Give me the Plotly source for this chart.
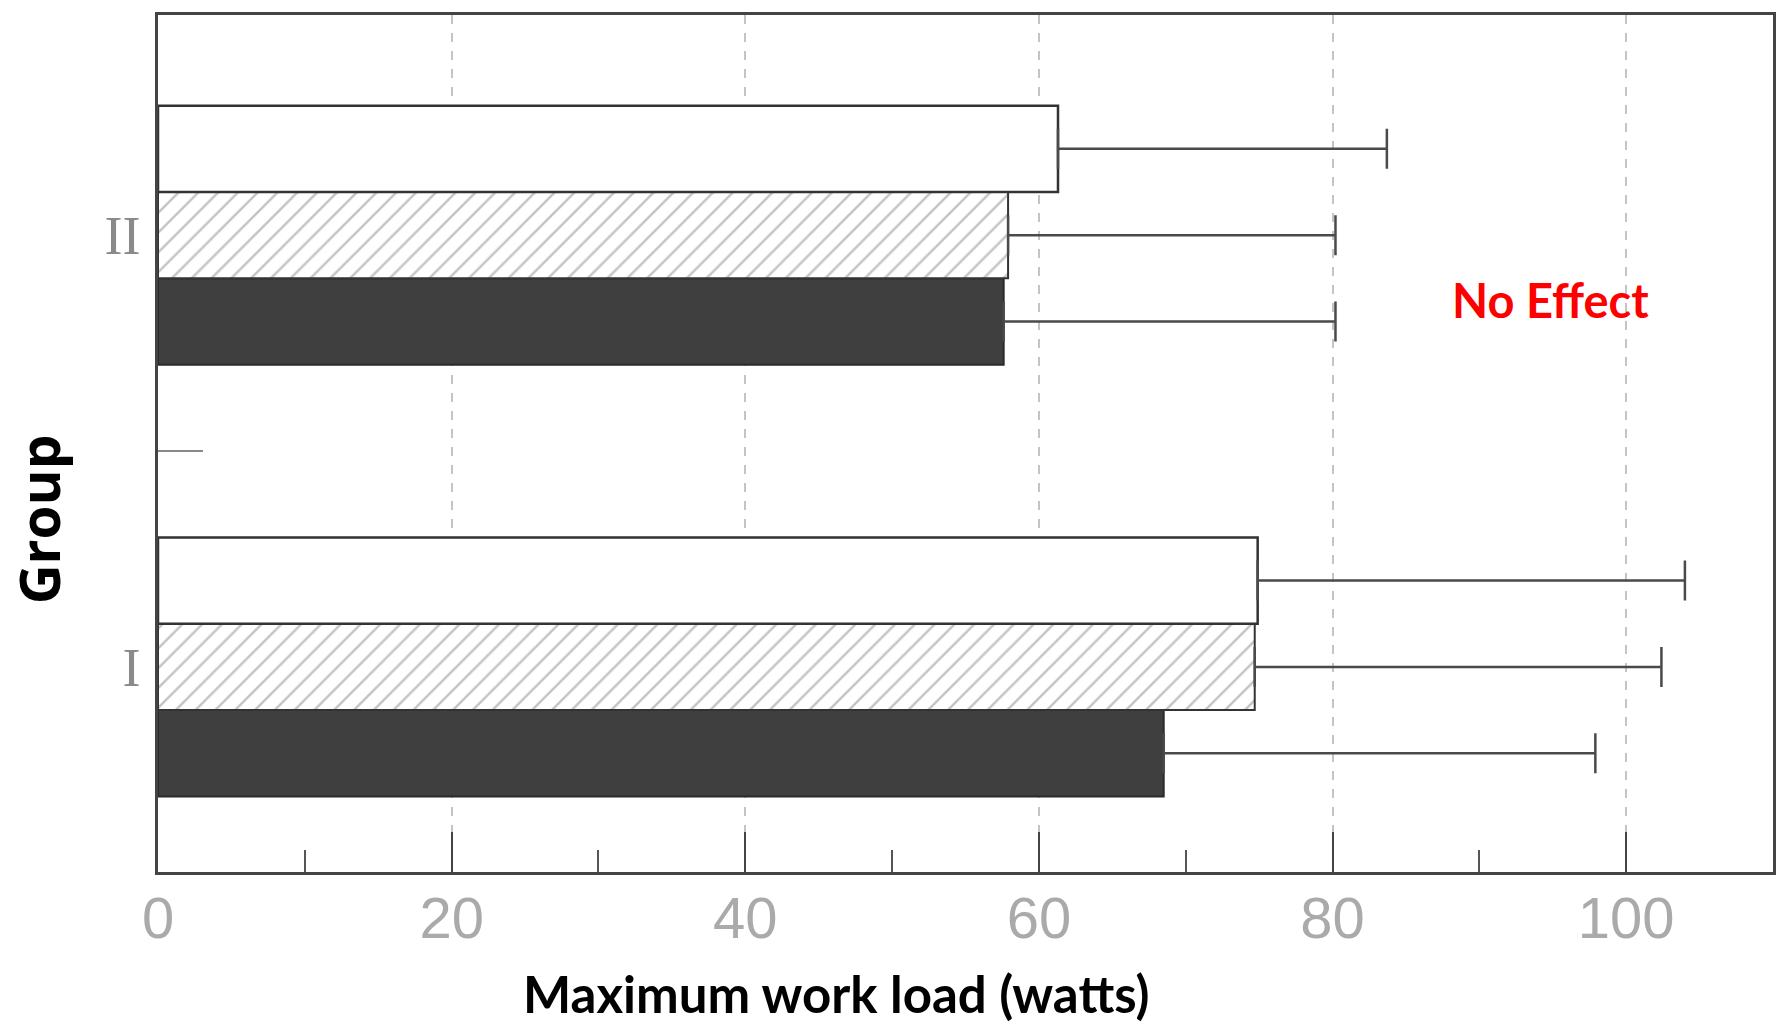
import plotly.graph_objects as go

# ---- data ----
groups = ["I", "II"]
group_pos = [0, 1]
series_names = ["Series C (dark)", "Series B (hatched)", "Series A (open)"]
dark_vals = [68.5, 57.6]
dark_err = [29.4, 22.6]
hatched_vals = [74.7, 57.9]
hatched_err = [27.7, 22.3]
open_vals = [74.9, 61.3]
open_err = [29.1, 22.4]
x_ticks = [0, 20, 40, 60, 80, 100]
x_tick_labels = ["0", "20", "40", "60", "80", "100"]

err_style = dict(type="data", symmetric=False, arrayminus=[0, 0],
                 color="#4a4a4a", thickness=2.5, width=20)

fig = go.Figure()
fig.add_trace(go.Bar(
    name=series_names[0], y=group_pos, x=dark_vals, orientation="h",
    marker=dict(color="#3f3f3f", line=dict(color="#2a2a2a", width=2)),
    error_x=dict(array=dark_err, **err_style),
))
fig.add_trace(go.Bar(
    name=series_names[1], y=group_pos, x=hatched_vals, orientation="h",
    marker=dict(color="white",
                pattern=dict(shape="/", fgcolor="#8a8a8a", bgcolor="white",
                             size=14, solidity=0.18),
                line=dict(color="#333333", width=2)),
    error_x=dict(array=hatched_err, **err_style),
))
fig.add_trace(go.Bar(
    name=series_names[2], y=group_pos, x=open_vals, orientation="h",
    marker=dict(color="white", line=dict(color="#333333", width=2.5)),
    error_x=dict(array=open_err, **err_style),
))

fig.update_layout(
    width=1789, height=1030,
    margin=dict(l=158, r=16, t=12, b=158),
    paper_bgcolor="white", plot_bgcolor="white",
    barmode="group", bargap=0.40, bargroupgap=0,
    showlegend=False,
    xaxis=dict(
        range=[0, 110], tickvals=x_ticks, ticktext=x_tick_labels,
        ticks="inside", ticklen=40, tickwidth=2, tickcolor="#444",
        minor=dict(ticks="inside", ticklen=22, tickwidth=2, tickcolor="#555",
                   dtick=10, tick0=0, showgrid=False),
        showline=True, linecolor="#444", linewidth=2.5, mirror=True,
        showgrid=True, gridcolor="#c4c4c4", griddash="dash", gridwidth=1.5,
        zeroline=False,
        tickfont=dict(family="Liberation Sans", size=58, color="#aaaaaa"),
        ticklabelstandoff=-6,
    ),
    yaxis=dict(
        range=[-0.475, 1.51],
        tickvals=group_pos, ticktext=groups, ticks="",
        minor=dict(ticks="inside", tickvals=[0.5], ticklen=45, tickwidth=2,
                   tickcolor="#888", showgrid=False),
        showline=True, linecolor="#444", linewidth=2.5, mirror=True,
        showgrid=False, zeroline=False,
        tickfont=dict(family="Liberation Serif", size=54, color="#8a8a8a"),
        ticklabelstandoff=4,
    ),
    annotations=[
        dict(text="<b>Maximum work load (watts)</b>", xref="paper", yref="paper",
             x=(836 - 158) / 1615, y=(872 - 994) / 860, xanchor="center",
             yanchor="middle", showarrow=False,
             font=dict(family="Lato", size=51, color="black")),
        dict(text="<b>Group</b>", xref="paper", yref="paper",
             x=(38 - 158) / 1615, y=(872 - 518) / 860, xanchor="center",
             yanchor="middle", textangle=-90, showarrow=False,
             font=dict(family="Open Sans", size=55, color="black")),
        dict(text="<b>No Effect</b>", xref="paper", yref="paper",
             x=(1550 - 158) / 1615, y=(872 - 298) / 860, xanchor="center",
             yanchor="middle", showarrow=False,
             font=dict(family="Lato", size=47, color="#ff0000")),
    ],
)

fig.write_html("out.html")
